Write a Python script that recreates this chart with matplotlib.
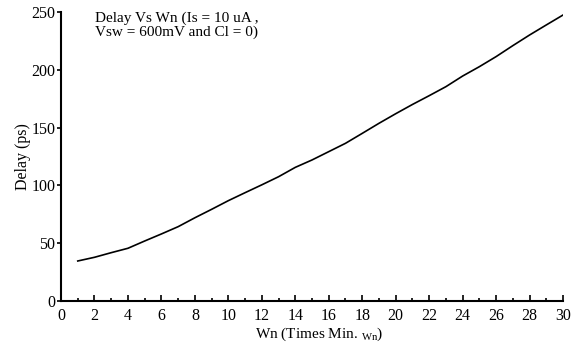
import matplotlib.pyplot as plt
from matplotlib.ticker import MultipleLocator

plt.rcParams['font.family'] = ['Liberation Serif', 'DejaVu Serif']
plt.rcParams['mathtext.fontset'] = 'custom'
plt.rcParams['mathtext.rm'] = 'Liberation Serif'

wn = [1, 2, 3, 4, 5, 6, 7, 8, 9, 10, 11, 12, 13, 14, 15, 16, 17, 18, 19, 20,
      21, 22, 23, 24, 25, 26, 27, 28, 29, 30]
delay = [34.6, 37.8, 41.8, 45.6, 51.9, 58.0, 64.3, 72.0, 79.3, 86.8,
         93.7, 100.5, 107.5, 115.6, 122.0, 129.2, 136.4, 145.0, 153.7, 162.0,
         170.0, 177.6, 185.4, 194.6, 202.7, 211.4, 220.9, 230.1, 238.8, 247.4]


def main():
    fig = plt.figure(figsize=(5.79, 3.47), dpi=100)
    ax = fig.add_axes([0.1054, 0.1326, 0.867, 0.8328])
    ax.plot(wn, delay, color='black', lw=1.2)

    ax.set_xlim(0, 30)
    ax.set_ylim(0, 250)
    ax.xaxis.set_major_locator(MultipleLocator(2))
    ax.xaxis.set_minor_locator(MultipleLocator(1))
    ax.yaxis.set_major_locator(MultipleLocator(50))
    ax.tick_params(axis='x', which='both', direction='in', labelsize=11.5,
                   width=1.2, pad=5)
    ax.tick_params(axis='x', which='major', length=4)
    ax.tick_params(axis='x', which='minor', length=2.5)
    ax.tick_params(axis='y', direction='out', length=3, labelsize=11.5,
                   width=1.2, pad=1)
    for s in ['top', 'right']:
        ax.spines[s].set_visible(False)
    for s in ['left', 'bottom']:
        ax.spines[s].set_linewidth(1.5)

    ax.set_xlabel(r'Wn (Times Min. $_{\mathrm{Wn}}$)', fontsize=11)
    ax.xaxis.set_label_coords(0.515, -0.087)
    ax.set_ylabel('Delay (ps)', fontsize=11.5)
    ax.yaxis.set_label_coords(-0.06, 0.5)
    ax.text(0.068, 1.0, 'Delay Vs Wn (Is = 10 uA ,\nVsw = 600mV and Cl = 0)',
            transform=ax.transAxes, fontsize=11, va='top', ha='left',
            linespacing=1.05)

    fig.savefig('out.png', dpi=100)


if __name__ == '__main__':
    main()
